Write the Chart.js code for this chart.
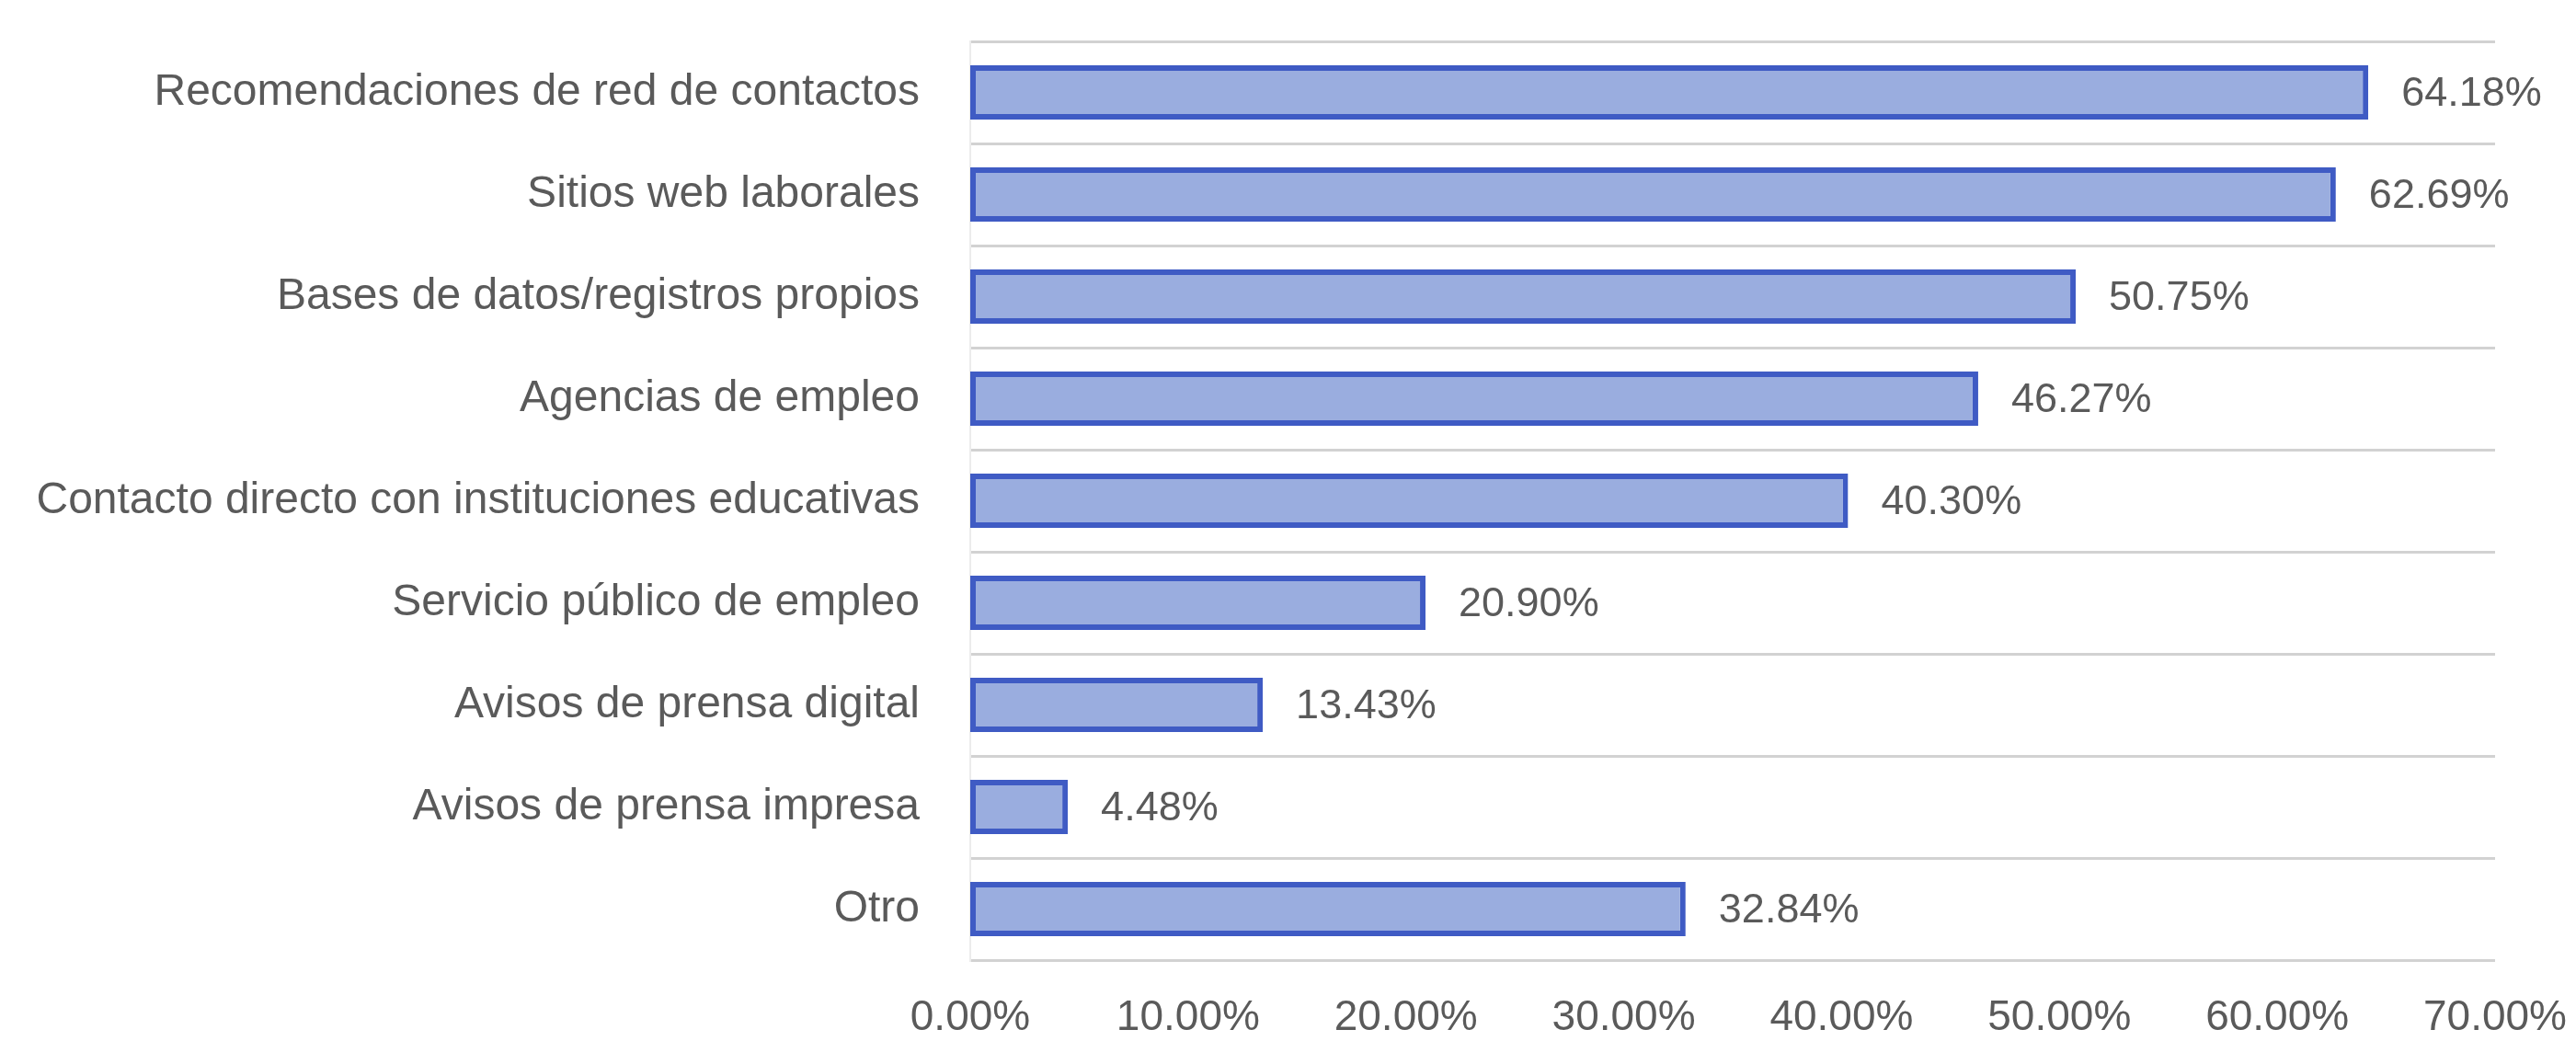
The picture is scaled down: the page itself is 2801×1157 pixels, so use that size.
<!DOCTYPE html>
<html lang="es">
<head>
<meta charset="utf-8">
<title>Canales de reclutamiento</title>
<script src="https://cdn.jsdelivr.net/npm/chart.js@4/dist/chart.umd.min.js"></script>
<style>
  html, body { margin: 0; padding: 0; background: #ffffff; }
  #wrap { width: 2801px; height: 1157px; position: relative; }
</style>
</head>
<body>
<div id="wrap"><canvas id="chart" width="2801" height="1157"></canvas></div>
<script>
// Canales utilizados para buscar candidatos (% de empresas)
const categories = [
  'Recomendaciones de red de contactos',
  'Sitios web laborales',
  'Bases de datos/registros propios',
  'Agencias de empleo',
  'Contacto directo con instituciones educativas',
  'Servicio público de empleo',
  'Avisos de prensa digital',
  'Avisos de prensa impresa',
  'Otro'
];
const percentages = [64.18, 62.69, 50.75, 46.27, 40.30, 20.90, 13.43, 4.48, 32.84];
const tickValues = [0, 10, 20, 30, 40, 50, 60, 70];

const FONT = "'Liberation Sans', Arial, sans-serif";
const TEXT_COLOR = '#5a5a5a';
const fmt = v => v.toFixed(2) + '%';

// Writes the percentage to the right of each bar
const valueLabels = {
  id: 'valueLabels',
  afterDatasetsDraw(chart) {
    const ctx = chart.ctx;
    const meta = chart.getDatasetMeta(0);
    ctx.save();
    ctx.font = '45px ' + FONT;
    ctx.fillStyle = TEXT_COLOR;
    ctx.textAlign = 'left';
    ctx.textBaseline = 'middle';
    meta.data.forEach((bar, i) => {
      ctx.fillText(fmt(chart.data.datasets[0].data[i]), bar.x + 36, bar.y + 2);
    });
    ctx.restore();
  }
};

new Chart(document.getElementById('chart'), {
  type: 'bar',
  data: {
    labels: categories,
    datasets: [{
      data: percentages,
      backgroundColor: '#9aaddf',
      borderColor: '#3f5bc4',
      borderWidth: 6,
      borderSkipped: false,
      barPercentage: 0.53,
      categoryPercentage: 1
    }]
  },
  options: {
    indexAxis: 'y',
    responsive: false,
    animation: false,
    devicePixelRatio: 1,
    layout: { padding: { top: 45, right: 88, bottom: 22, left: 0 } },
    plugins: {
      legend: { display: false },
      tooltip: { enabled: false }
    },
    scales: {
      x: {
        min: 0,
        max: 70,
        afterBuildTicks(scale) {
          scale.ticks = tickValues.map(v => ({ value: v }));
        },
        afterFit(scale) {
          scale.height = 91;
          scale.paddingLeft = 0;
          scale.paddingRight = 0;
        },
        grid: { display: false, drawTicks: false },
        border: { display: false },
        ticks: {
          padding: 36,
          color: TEXT_COLOR,
          font: { family: FONT, size: 46 },
          callback: v => fmt(v),
          maxRotation: 0
        }
      },
      y: {
        afterFit(scale) {
          scale.width = 1055;
          scale.paddingTop = 0;
          scale.paddingBottom = 0;
        },
        grid: {
          color: '#d2d2d2',
          lineWidth: 3,
          drawTicks: false,
          offset: true
        },
        border: { display: true, color: '#ececec', width: 2 },
        ticks: {
          padding: 55,
          color: TEXT_COLOR,
          font: { family: FONT, size: 48 }
        }
      }
    }
  },
  plugins: [valueLabels]
});
</script>
</body>
</html>
